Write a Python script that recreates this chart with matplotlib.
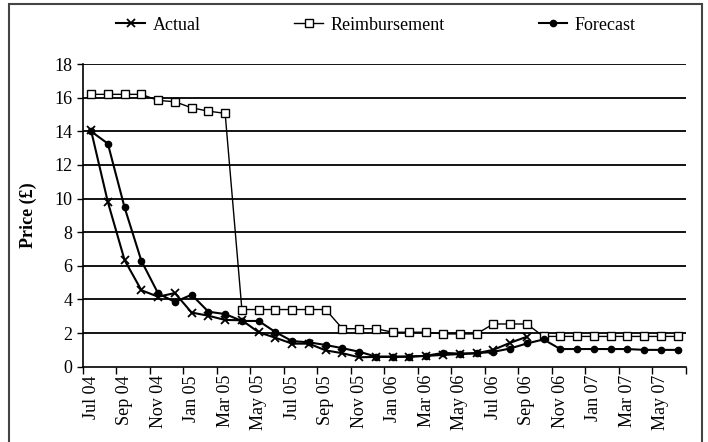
import matplotlib
matplotlib.use("Agg")
import matplotlib.pyplot as plt
from matplotlib.patches import Rectangle

plt.rcParams['font.family'] = ['Liberation Serif', 'DejaVu Serif']

months = ['Jul 04', 'Aug 04', 'Sep 04', 'Oct 04', 'Nov 04', 'Dec 04',
          'Jan 05', 'Feb 05', 'Mar 05', 'Apr 05', 'May 05', 'Jun 05',
          'Jul 05', 'Aug 05', 'Sep 05', 'Oct 05', 'Nov 05', 'Dec 05',
          'Jan 06', 'Feb 06', 'Mar 06', 'Apr 06', 'May 06', 'Jun 06',
          'Jul 06', 'Aug 06', 'Sep 06', 'Oct 06', 'Nov 06', 'Dec 06',
          'Jan 07', 'Feb 07', 'Mar 07', 'Apr 07', 'May 07', 'Jun 07']

actual = [14.05, 9.8, 6.34, 4.55, 4.16, 4.38, 3.22, 3.03, 2.78, 2.76,
          2.05, 1.72, 1.37, 1.37, 0.97, 0.8, 0.56, 0.58, 0.58, 0.6,
          0.64, 0.7, 0.75, 0.8, 1.0, 1.42, 1.78]

reimbursement = [16.2, 16.2, 16.2, 16.2, 15.84, 15.76, 15.4, 15.2, 15.07,
                 3.4, 3.4, 3.4, 3.4, 3.4, 3.4, 2.26, 2.26, 2.26,
                 2.05, 2.05, 2.05, 1.95, 1.95, 1.95, 2.54, 2.54, 2.54,
                 1.8, 1.8, 1.8, 1.8, 1.8, 1.8, 1.8, 1.8, 1.8]

forecast = [14.0, 13.27, 9.47, 6.3, 4.36, 3.85, 4.28, 3.27, 3.13, 2.72,
            2.72, 2.06, 1.52, 1.45, 1.29, 1.1, 0.89, 0.6, 0.6, 0.6,
            0.65, 0.82, 0.78, 0.8, 0.88, 1.08, 1.38, 1.62, 1.05, 1.05,
            1.05, 1.05, 1.05, 1.0, 1.0, 1.0]

fig = plt.figure(figsize=(7.08, 4.42), dpi=100)
ax = fig.add_axes([0.1168, 0.1704, 0.9689 - 0.1168, 0.855 - 0.1704])

x_all = list(range(len(months)))

for y in range(2, 19, 2):
    ax.axhline(y, color='black', lw=1.3, zorder=1)

ax.plot(range(len(actual)), actual, color='black', lw=1.5, marker='x',
        ms=6, mew=1.3, label='Actual', zorder=4)
ax.plot(x_all, reimbursement, color='black', lw=1.0, marker='s', ms=5.5,
        mfc='white', mec='black', mew=1.0, label='Reimbursement', zorder=3)
ax.plot(x_all, forecast, color='black', lw=1.5, marker='o', ms=4.5,
        label='Forecast', zorder=4)

ax.set_xlim(-0.5, len(months) - 0.5)
ax.set_ylim(0, 18)
ax.set_yticks(range(0, 19, 2))
ax.tick_params(axis='y', labelsize=13, length=4, width=1, direction='out')

ax.set_xticks([i - 0.5 for i in range(0, len(months) + 1, 2)])
ax.set_xticklabels([])
ax.tick_params(axis='x', which='major', length=5, width=1, direction='out')
ax.set_xticks(x_all[::2], minor=True)
ax.set_xticklabels(months[::2], minor=True, rotation=90, fontsize=13)
ax.tick_params(axis='x', which='minor', length=0, pad=6)

ax.spines['top'].set_visible(False)
ax.spines['right'].set_visible(False)
ax.spines['left'].set_linewidth(1.2)
ax.spines['bottom'].set_linewidth(1.2)

ax.set_ylabel('Price (£)', fontsize=13, fontweight='bold', labelpad=12)

fig.legend(loc='center', bbox_to_anchor=(0.531, 0.943), ncol=3,
           frameon=False, fontsize=13, handlelength=1.6, handletextpad=0.4,
           columnspacing=5.2)

fig.patches.append(Rectangle((9.3 / 708, -0.02), (701.5 - 9.3) / 708,
                             1.011, transform=fig.transFigure, fill=False,
                             edgecolor='#444444', lw=1.5))

fig.savefig('out.png', dpi=100)
